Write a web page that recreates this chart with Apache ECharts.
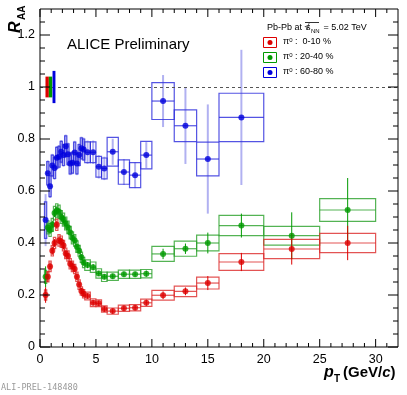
<!DOCTYPE html>
<html>
<head>
<meta charset="utf-8">
<script src="https://cdn.jsdelivr.net/npm/echarts@6/dist/echarts.min.js"></script>
<style>
  html, body { margin: 0; padding: 0; background: #fff; }
  #chart { width: 407px; height: 395px; }
</style>
</head>
<body>
<div id="chart"></div>
<script>
// bin centres and half widths (GeV/c)
const ptBins = [0.5, 0.7, 0.9, 1.1, 1.3, 1.5, 1.7, 1.9, 2.1, 2.3, 2.5, 2.7, 2.9, 3.1, 3.3, 3.5, 3.7, 3.9,
  4.25, 4.75, 5.25, 5.75, 6.5, 7.5, 8.5, 9.5, 11, 13, 15, 18, 22.5, 27.5];
const ptHalf = [0.1, 0.1, 0.1, 0.1, 0.1, 0.1, 0.1, 0.1, 0.1, 0.1, 0.1, 0.1, 0.1, 0.1, 0.1, 0.1, 0.1, 0.1,
  0.25, 0.25, 0.25, 0.25, 0.5, 0.5, 0.5, 0.5, 1, 1, 1, 2, 2.5, 2.5];

// 0-10 %
const raaCent = [0.20, 0.27, 0.31, 0.37, 0.40, 0.47, 0.41, 0.405, 0.39, 0.36, 0.35, 0.32, 0.31, 0.30, 0.27, 0.24, 0.215, 0.205,
  0.196, 0.17, 0.168, 0.146, 0.138, 0.149, 0.151, 0.17, 0.199, 0.214, 0.246, 0.327, 0.377, 0.40];
const statCent = [0.03, 0.02, 0.015, 0.015, 0.015, 0.015, 0.015, 0.015, 0.015, 0.012, 0.012, 0.012, 0.012, 0.012, 0.012, 0.012, 0.012, 0.012,
  0.01, 0.01, 0.01, 0.01, 0.01, 0.01, 0.01, 0.012, 0.015, 0.015, 0.027, 0.035, 0.06, 0.066];
const systCent = [0.02, 0.02, 0.02, 0.02, 0.022, 0.022, 0.022, 0.022, 0.02, 0.02, 0.02, 0.02, 0.02, 0.018, 0.018, 0.018, 0.016, 0.016,
  0.015, 0.015, 0.013, 0.012, 0.012, 0.012, 0.012, 0.014, 0.019, 0.02, 0.023, 0.032, 0.037, 0.037];

// 20-40 %
const raaSemi = [0.27, 0.46, 0.45, 0.47, 0.515, 0.525, 0.52, 0.50, 0.49, 0.475, 0.46, 0.44, 0.42, 0.41, 0.386, 0.37, 0.345, 0.325,
  0.315, 0.307, 0.283, 0.27, 0.272, 0.28, 0.28, 0.282, 0.358, 0.378, 0.40, 0.467, 0.428, 0.527];
const statSemi = [0.04, 0.02, 0.015, 0.015, 0.015, 0.015, 0.015, 0.015, 0.015, 0.012, 0.012, 0.012, 0.012, 0.012, 0.012, 0.012, 0.012, 0.012,
  0.012, 0.012, 0.01, 0.01, 0.01, 0.01, 0.01, 0.012, 0.02, 0.02, 0.04, 0.046, 0.09, 0.123];
const systSemi = [0.025, 0.025, 0.025, 0.025, 0.026, 0.026, 0.026, 0.025, 0.025, 0.025, 0.024, 0.024, 0.023, 0.022, 0.022, 0.021, 0.02, 0.02,
  0.02, 0.02, 0.018, 0.018, 0.016, 0.016, 0.016, 0.016, 0.029, 0.029, 0.03, 0.039, 0.036, 0.044];

// 60-80 % (stops at 20 GeV/c)
const raaPeri = [0.488, 0.668, 0.618, 0.698, 0.688, 0.728, 0.732, 0.751, 0.738, 0.772, 0.741, 0.706, 0.709, 0.748, 0.706, 0.738, 0.764, 0.76,
  0.749, 0.749, 0.693, 0.687, 0.751, 0.673, 0.661, 0.738, 0.946, 0.851, 0.723, 0.883];
const statPeri = [0.1, 0.05, 0.045, 0.045, 0.045, 0.045, 0.045, 0.045, 0.045, 0.045, 0.045, 0.045, 0.045, 0.045, 0.045, 0.045, 0.045, 0.045,
  0.045, 0.045, 0.045, 0.045, 0.05, 0.05, 0.05, 0.05, 0.1, 0.147, 0.21, 0.26];
const systPeri = [0.07, 0.045, 0.04, 0.04, 0.04, 0.04, 0.04, 0.04, 0.04, 0.04, 0.04, 0.04, 0.04, 0.04, 0.04, 0.04, 0.04, 0.04,
  0.04, 0.04, 0.04, 0.04, 0.055, 0.047, 0.048, 0.053, 0.071, 0.061, 0.065, 0.093];

// normalisation boxes at RAA = 1
const normPt = [0.64, 0.94, 1.25];
const normHalf = [0.15, 0.15, 0.13];
const normErr = [0.04, 0.04, 0.062];

// axis ticks (ROOT style, drawn inside on all four sides)
const xMajor = [0, 5, 10, 15, 20, 25, 30];
const xMinor = [1, 2, 3, 4, 6, 7, 8, 9, 11, 12, 13, 14, 16, 17, 18, 19, 21, 22, 23, 24, 26, 27, 28, 29, 31];
const yMajor = [0, 0.2, 0.4, 0.6, 0.8, 1.0, 1.2];
const yMinor = [0.05, 0.1, 0.15, 0.25, 0.3, 0.35, 0.45, 0.5, 0.55, 0.65, 0.7, 0.75, 0.85, 0.9, 0.95, 1.05, 1.1, 1.15, 1.25];

const RED = '#dd0000', GREEN = '#009a00', BLUE = '#0000dd';

function rows(vals, stat, syst) {
  return vals.map((v, i) => [ptBins[i], ptHalf[i], v, stat[i], syst[i]]);
}

const boxRender = (stroke) => (params, api) => {
  const pt = api.value(0), hw = api.value(1), v = api.value(2), sy = api.value(4);
  const a = api.coord([pt - hw, v + sy]);
  const b = api.coord([pt + hw, v - sy]);
  const l = api.coord([pt - hw, v]);
  const r = api.coord([pt + hw, v]);
  return {
    type: 'group',
    children: [
      { type: 'rect', shape: { x: a[0], y: a[1], width: b[0] - a[0], height: b[1] - a[1] },
        style: { fill: 'none', stroke: stroke, lineWidth: 1.2 } },
      { type: 'line', shape: { x1: l[0], y1: l[1], x2: r[0], y2: r[1] },
        style: { stroke: stroke, lineWidth: 1.2 } }
    ]
  };
};

const statRender = (stroke, w) => (params, api) => {
  const pt = api.value(0), v = api.value(2), st = api.value(3);
  const a = api.coord([pt, v + st]);
  const b = api.coord([pt, v - st]);
  return { type: 'line', shape: { x1: a[0], y1: a[1], x2: b[0], y2: b[1] },
    style: { stroke: stroke, lineWidth: w } };
};

const normRender = (colors) => (params, api) => {
  const i = params.dataIndex;
  const pt = api.value(0), hw = api.value(1), e = api.value(2);
  const a = api.coord([pt - hw, 1 + e]);
  const b = api.coord([pt + hw, 1 - e]);
  return { type: 'rect', shape: { x: a[0], y: a[1], width: b[0] - a[0], height: b[1] - a[1] },
    style: { fill: colors[i] } };
};

// ticks along x: data = [value, length]
const xTickRender = (params, api) => {
  const cs = params.coordSys;
  const p = api.coord([api.value(0), 0]);
  const len = api.value(1);
  const top = cs.y, bottom = cs.y + cs.height;
  return {
    type: 'group',
    children: [
      { type: 'line', shape: { x1: p[0], y1: bottom, x2: p[0], y2: bottom - len }, style: { stroke: '#000', lineWidth: 1 } },
      { type: 'line', shape: { x1: p[0], y1: top, x2: p[0], y2: top + len }, style: { stroke: '#000', lineWidth: 1 } }
    ]
  };
};
const yTickRender = (params, api) => {
  const cs = params.coordSys;
  const p = api.coord([0, api.value(1)]);
  const len = api.value(2);
  const left = cs.x, right = cs.x + cs.width;
  return {
    type: 'group',
    children: [
      { type: 'line', shape: { x1: left, y1: p[1], x2: left + len, y2: p[1] }, style: { stroke: '#000', lineWidth: 1 } },
      { type: 'line', shape: { x1: right, y1: p[1], x2: right - len, y2: p[1] }, style: { stroke: '#000', lineWidth: 1 } }
    ]
  };
};

function groupSeries(vals, stat, syst, color, boxColor, statColor, statW) {
  const d = rows(vals, stat, syst);
  return [
    { type: 'custom', renderItem: boxRender(boxColor), data: d, clip: true, z: 2,
      encode: { x: 0, y: 2 } },
    { type: 'custom', renderItem: statRender(statColor, statW), data: d, clip: true, z: 3,
      encode: { x: 0, y: 2 } },
    { type: 'scatter', data: d.map(r => [r[0], r[2]]), symbol: 'circle', symbolSize: 6,
      itemStyle: { color: color }, z: 4 }
  ];
}

const font = 'Liberation Sans, Arial, sans-serif';

let myChart = echarts.init(document.getElementById('chart'), null, { renderer: 'canvas' });

let option = {
  animation: false,
  backgroundColor: '#fff',
  grid: { left: 40, right: 9, top: 9, bottom: 48, show: true, borderColor: '#000', borderWidth: 1, backgroundColor: 'transparent' },
  xAxis: {
    type: 'value', min: 0, max: 32, interval: 5,
    axisLine: { show: false },
    splitLine: { show: false },
    axisTick: { show: false },
    axisLabel: { color: '#000', fontSize: 12.5, fontFamily: font, margin: 6, showMaxLabel: false }
  },
  yAxis: {
    type: 'value', min: 0, max: 1.3, interval: 0.2,
    axisLine: { show: false },
    splitLine: { show: false },
    axisTick: { show: false },
    axisLabel: { color: '#000', fontSize: 12.5, fontFamily: font, margin: 5, showMaxLabel: false }
  },
  series: [].concat(
    [{
      type: 'custom', renderItem: xTickRender, z: 10, clip: false,
      data: xMajor.map(v => [v, 8]).concat(xMinor.map(v => [v, 4])),
      encode: { x: 0 }
    }, {
      type: 'custom', renderItem: yTickRender, z: 10, clip: false,
      data: yMajor.map(v => [0, v, 10]).concat(yMinor.map(v => [0, v, 5])),
      encode: { y: 1 }
    }, {
      type: 'custom', renderItem: normRender([RED, GREEN, BLUE]), z: 5,
      data: normPt.map((p, i) => [p, normHalf[i], normErr[i]]),
      encode: { x: 0, y: 2 },
      markLine: {
        silent: true, symbol: 'none', label: { show: false },
        lineStyle: { color: '#555', type: [3, 3], width: 1 },
        data: [{ yAxis: 1 }]
      }
    }],
    groupSeries(raaPeri, statPeri, systPeri, BLUE, 'rgba(40,40,220,0.8)', 'rgba(60,60,220,0.4)', 2),
    groupSeries(raaSemi, statSemi, systSemi, GREEN, 'rgba(40,160,40,0.8)', GREEN, 1),
    groupSeries(raaCent, statCent, systCent, RED, 'rgba(220,40,40,0.8)', RED, 1)
  ),
  graphic: [
    // y title
    { type: 'text', x: 8, y: 33, rotation: Math.PI / 2,
      style: { text: 'R', font: 'italic bold 16px ' + font, fill: '#000', textAlign: 'left', textVerticalAlign: 'top' } },
    { type: 'text', x: 17, y: 20, rotation: Math.PI / 2,
      style: { text: 'AA', font: 'bold 10px ' + font, fill: '#000', textAlign: 'left', textVerticalAlign: 'top' } },
    // x title
    { type: 'text', x: 324, y: 365,
      style: { text: 'p', font: 'italic bold 16px ' + font, fill: '#000' } },
    { type: 'text', x: 334, y: 374,
      style: { text: 'T', font: 'bold 10px ' + font, fill: '#000' } },
    { type: 'text', x: 343, y: 365,
      style: { text: '{b|(GeV/}{i|c}{b|)}', fill: '#000',
        rich: { b: { font: 'bold 15px ' + font }, i: { font: 'italic bold 15px ' + font } } } },
    // ALICE label
    { type: 'text', x: 67, y: 37,
      style: { text: 'ALICE Preliminary', font: '15px ' + font, fill: '#000' } },
    // legend header
    { type: 'text', x: 267, y: 23,
      style: { text: 'Pb-Pb at \u221A', font: '9px ' + font, fill: '#000' } },
    { type: 'line', shape: { x1: 305, y1: 22.5, x2: 319, y2: 22.5 }, style: { stroke: '#000', lineWidth: 0.8 } },
    { type: 'text', x: 306, y: 23,
      style: { text: 's', font: '9px ' + font, fill: '#000' } },
    { type: 'text', x: 311, y: 28,
      style: { text: 'NN', font: '6px ' + font, fill: '#000' } },
    { type: 'text', x: 321, y: 23,
      style: { text: ' = 5.02 TeV', font: '9px ' + font, fill: '#000' } },
    // legend entries
    { type: 'rect', shape: { x: 263.5, y: 37.5, width: 13, height: 10 }, style: { fill: '#fff', stroke: RED, lineWidth: 1 } },
    { type: 'circle', shape: { cx: 270, cy: 42.5, r: 2.5 }, style: { fill: RED } },
    { type: 'rect', shape: { x: 263.5, y: 52.5, width: 13, height: 10 }, style: { fill: '#fff', stroke: GREEN, lineWidth: 1 } },
    { type: 'circle', shape: { cx: 270, cy: 57.5, r: 2.5 }, style: { fill: GREEN } },
    { type: 'rect', shape: { x: 263.5, y: 67.5, width: 13, height: 10 }, style: { fill: '#fff', stroke: BLUE, lineWidth: 1 } },
    { type: 'circle', shape: { cx: 270, cy: 72.5, r: 2.5 }, style: { fill: BLUE } },
    { type: 'text', x: 283, y: 37,
      style: { text: '\u03C0{s|0} :  0-10 %', font: '9px ' + font, fill: '#000', rich: { s: { font: '6px ' + font, verticalAlign: 'top', padding: [0, 0, 4, 0] } } } },
    { type: 'text', x: 283, y: 52,
      style: { text: '\u03C0{s|0} : 20-40 %', font: '9px ' + font, fill: '#000', rich: { s: { font: '6px ' + font, verticalAlign: 'top', padding: [0, 0, 4, 0] } } } },
    { type: 'text', x: 283, y: 67,
      style: { text: '\u03C0{s|0} : 60-80 %', font: '9px ' + font, fill: '#000', rich: { s: { font: '6px ' + font, verticalAlign: 'top', padding: [0, 0, 4, 0] } } } },
    // preliminary id
    { type: 'text', x: 1, y: 383,
      style: { text: 'ALI-PREL-148480', font: '8.5px DejaVu Sans Mono, monospace', fill: '#999' } }
  ]
};

option && myChart.setOption(option);
</script>
</body>
</html>
